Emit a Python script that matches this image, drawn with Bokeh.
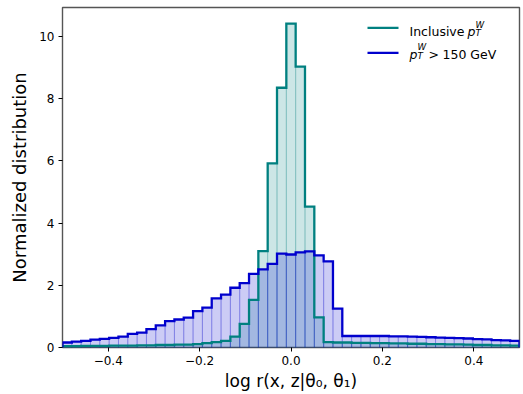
import numpy as np
from bokeh.plotting import figure
from bokeh.models import Range1d, FixedTicker, Label, Arrow
from bokeh.embed import file_html
from bokeh.resources import INLINE

# ---------------- data ----------------
bin_low, bin_high, n_bins = -0.5, 0.5, 49

inclusive = [0.04, 0.04, 0.05, 0.05, 0.05, 0.06, 0.06, 0.06, 0.07, 0.07,
             0.08, 0.08, 0.09, 0.09, 0.11, 0.14, 0.17, 0.21, 0.35, 0.76,
             1.53, 3.10, 5.92, 8.35, 10.41, 9.03, 4.53, 0.97, 0.17, 0.16,
             0.16, 0.15, 0.15, 0.14, 0.14, 0.13, 0.13, 0.12, 0.12, 0.11,
             0.11, 0.10, 0.10, 0.09, 0.08, 0.08, 0.07, 0.07, 0.06]

high_pt = [0.16, 0.19, 0.21, 0.25, 0.28, 0.31, 0.35, 0.44, 0.48, 0.59,
           0.71, 0.85, 0.90, 0.96, 1.17, 1.28, 1.58, 1.70, 1.92, 2.07,
           2.37, 2.51, 2.69, 3.02, 2.99, 3.06, 3.09, 2.96, 2.77, 1.25,
           0.37, 0.37, 0.37, 0.37, 0.37, 0.36, 0.36, 0.35, 0.34, 0.33,
           0.32, 0.31, 0.30, 0.29, 0.27, 0.26, 0.24, 0.23, 0.21]

x_ticks = [-0.4, -0.2, 0.0, 0.2, 0.4]
x_tick_labels = ["\u22120.4", "\u22120.2", "0.0", "0.2", "0.4"]
y_ticks = [0, 2, 4, 6, 8, 10]
y_tick_labels = ["0", "2", "4", "6", "8", "10"]

teal = "#008080"
blue = "#0000cd"

edges = np.linspace(bin_low, bin_high, n_bins + 1)


def outline(vals):
    xs = np.repeat(edges, 2)
    ys = np.concatenate([[0.0], np.repeat(np.asarray(vals, float), 2), [0.0]])
    return xs, ys


# ---------------- figure ----------------
FL, FT, FR, FB = 62, 7, 519, 347  # frame box in page pixels
W, H = 523, 394

p = figure(width=W, height=H, output_backend="svg", toolbar_location=None,
           x_range=Range1d(-0.5, 0.5), y_range=Range1d(0, 10.93),
           min_border_left=FL, min_border_right=W - FR,
           min_border_top=FT, min_border_bottom=H - FB)
p.background_fill_color = "white"
p.border_fill_color = "white"
p.outline_line_color = "#555555"
p.outline_line_width = 1.4
p.grid.visible = False

# fills
p.quad(left=edges[:-1], right=edges[1:], bottom=0, top=inclusive,
       fill_color=teal, fill_alpha=0.2, line_color=teal, line_alpha=0.22, line_width=1)
p.quad(left=edges[:-1], right=edges[1:], bottom=0, top=high_pt,
       fill_color=blue, fill_alpha=0.2, line_color=blue, line_alpha=0.22, line_width=1)

# step outlines
xs, ys = outline(inclusive)
p.line(xs, ys, line_color=teal, line_width=2.3, line_join="miter")
xs, ys = outline(high_pt)
p.line(xs, ys, line_color=blue, line_width=2.3, line_join="miter")

# axes
p.xaxis.ticker = FixedTicker(ticks=x_ticks)
p.xaxis.major_label_overrides = dict(zip(x_ticks, x_tick_labels))
p.yaxis.ticker = FixedTicker(ticks=y_ticks)
p.yaxis.major_label_overrides = dict(zip(y_ticks, y_tick_labels))
for ax in p.axis:
    ax.axis_line_color = None
    ax.major_tick_out = 4
    ax.major_tick_in = 0
    ax.minor_tick_out = 0
    ax.minor_tick_in = 0
    ax.major_tick_line_color = "black"
    ax.major_tick_line_width = 1
    ax.major_label_text_font = "DejaVu Sans"
    ax.major_label_text_font_size = "12px"
    ax.major_label_text_color = "black"
    ax.major_label_standoff = 4
    ax.axis_label_text_font = "DejaVu Sans"
    ax.axis_label_text_font_style = "normal"
    ax.axis_label_text_color = "black"

p.xaxis.axis_label = "log r(x, z|\u03b8\u2080, \u03b8\u2081)"
p.yaxis.axis_label = "Normalized distribution"
p.xaxis.axis_label_text_font_size = "17px"
p.yaxis.axis_label_text_font_size = "18px"
p.xaxis.axis_label_standoff = 3
p.yaxis.axis_label_standoff = 6


# ---------------- legend (screen units relative to frame) ----------------
def fx(px):
    return px - FL


def fy(py):
    return FB - py


def add_text(px, py, text, size="12.5px", style="normal", align="left"):
    p.add_layout(Label(x=fx(px), y=fy(py), x_units="screen", y_units="screen",
                       text=text, text_font="DejaVu Sans", text_font_size=size,
                       text_font_style=style, text_color="black",
                       text_baseline="alphabetic", text_align=align))


def add_swatch(py, color):
    p.add_layout(Arrow(start=None, end=None, x_start=fx(367), y_start=fy(py),
                       x_end=fx(398), y_end=fy(py), start_units="screen",
                       end_units="screen", line_color=color, line_width=2.3))


add_swatch(27.3, teal)
add_swatch(52.3, blue)

b1, b2 = 31.0, 53.5
add_text(409, b1, "Inclusive")
add_text(467, b1, "p", style="italic")
add_text(475, b1 - 6.8, "W", size="8.8px", style="italic")
add_text(475, b1 + 1.5, "T", size="8.8px", style="italic")

add_text(409, b2, "p", style="italic")
add_text(417, b2 - 6.8, "W", size="8.8px", style="italic")
add_text(417, b2 + 1.5, "T", size="8.8px", style="italic")
add_text(428, b2, ">")
add_text(442, b2, "150 GeV")

open("out.html", "w").write(file_html(p, INLINE))
